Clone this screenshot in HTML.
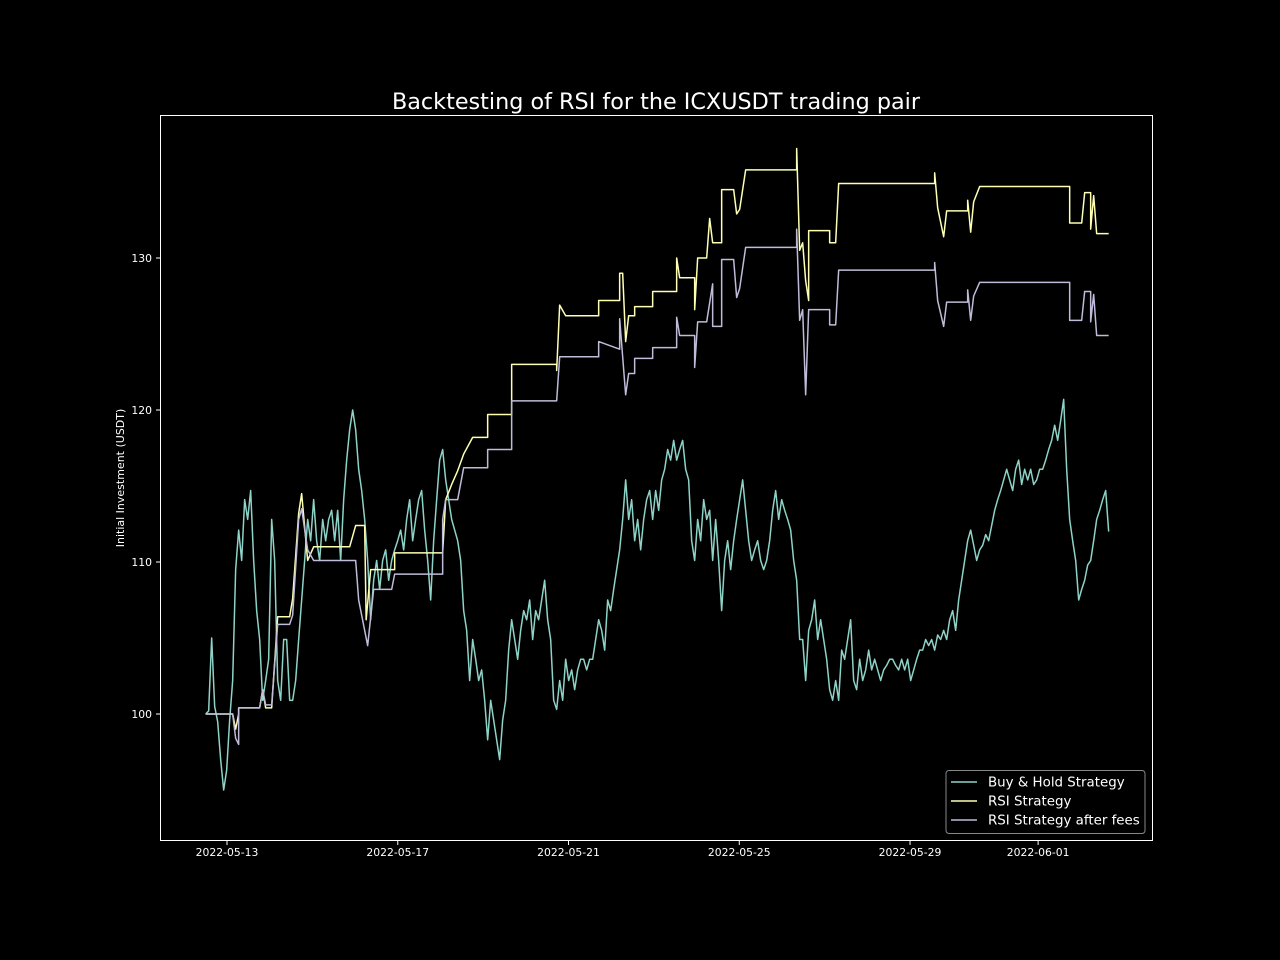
<!DOCTYPE html>
<html><head><meta charset="utf-8"><style>
html,body{margin:0;padding:0;background:#000;}
svg{display:block;font-family:"DejaVu Sans","Liberation Sans",sans-serif;}
</style></head><body>
<svg id="chart" width="1280" height="960" viewBox="0 0 1280 960">
<rect x="0" y="0" width="1280" height="960" fill="#000"/>
<text x="656" y="109" fill="#fff" font-size="22.3" text-anchor="middle">Backtesting of RSI for the ICXUSDT trading pair</text>
<text transform="translate(124,478) rotate(-90)" fill="#fff" font-size="11" text-anchor="middle">Initial Investment (USDT)</text>
<g id="ticks"></g>
<g id="series"></g>
<rect x="160.5" y="115.5" width="992" height="725" fill="none" stroke="#fff" stroke-width="1"/>
<g>
<rect x="946" y="770.5" width="199" height="63" rx="3" fill="#000" stroke="#888" stroke-width="1"/>
<line x1="951" y1="782" x2="977" y2="782" stroke="#8dd3c7" stroke-width="1.5"/>
<text x="988" y="786.5" fill="#fff" font-size="13.4">Buy &amp; Hold Strategy</text>
<line x1="951" y1="801" x2="977" y2="801" stroke="#feffb3" stroke-width="1.5"/>
<text x="988" y="805.5" fill="#fff" font-size="13.4">RSI Strategy</text>
<line x1="951" y1="820" x2="977" y2="820" stroke="#bfbbd9" stroke-width="1.5"/>
<text x="988" y="824.5" fill="#fff" font-size="13.4">RSI Strategy after fees</text>
</g>
</svg>
<script>
// data
const startTime = Date.UTC(2022,4,12,12,0);
const stepHours = 1.6866;
const yTicks = [100,110,120,130];
const xTickLabels = ["2022-05-13","2022-05-17","2022-05-21","2022-05-25","2022-05-29","2022-06-01"];
const buyHold = [100,100.2,105.0,100.5,99.5,97.0,95.0,96.3,99.6,102.2,109.5,112.1,110.1,114.1,112.8,114.7,110.1,106.8,104.9,100.9,102.2,103.6,112.8,110.1,102.2,100.9,104.9,104.9,100.9,100.9,102.2,104.9,107.5,110.1,112.8,111.4,114.1,111.4,110.1,112.8,111.4,112.8,113.4,111.4,113.4,110.1,114.1,116.7,118.7,120.0,118.7,116.1,114.7,112.8,110.1,106.2,108.8,110.1,108.2,110.1,110.8,108.8,110.1,110.8,111.4,112.1,110.8,112.8,114.1,111.4,112.8,114.1,114.7,112.1,110.1,107.5,111.4,114.1,116.7,117.4,115.4,114.1,112.8,112.1,111.4,110.1,106.8,105.5,102.2,104.9,103.6,102.2,102.9,100.9,98.3,100.9,99.6,98.3,97.0,99.6,100.9,104.2,106.2,104.9,103.6,105.5,106.8,106.2,107.5,104.9,106.8,106.2,107.5,108.8,106.2,104.9,100.9,100.3,102.2,100.9,103.6,102.2,102.9,101.6,102.9,103.6,103.6,102.9,103.6,103.6,104.9,106.2,105.5,104.2,107.5,106.8,108.2,109.5,110.8,112.8,115.4,112.8,114.1,111.4,112.8,110.8,112.8,114.1,114.7,112.8,114.7,113.4,115.4,116.1,117.4,116.7,118.0,116.7,117.4,118.0,116.1,115.4,111.4,110.1,112.8,111.4,114.1,112.8,113.4,110.1,112.8,110.1,106.8,110.1,111.4,109.5,111.4,112.8,114.1,115.4,113.4,111.4,110.1,110.8,111.4,110.1,109.5,110.1,111.4,113.4,114.7,112.8,114.1,113.4,112.8,112.1,110.1,108.8,104.9,104.9,102.2,105.5,106.2,107.5,104.9,106.2,104.9,103.6,101.6,100.9,102.2,100.9,104.2,103.6,104.9,106.2,102.2,101.6,103.6,102.2,102.9,104.2,102.9,103.6,102.9,102.2,102.9,103.2,103.6,103.6,103.2,102.9,103.6,102.9,103.6,102.2,102.9,103.6,104.2,104.2,104.9,104.5,104.9,104.2,105.2,104.9,105.5,104.9,106.2,106.8,105.5,107.5,108.8,110.1,111.4,112.1,111.1,110.1,110.8,111.1,111.8,111.4,112.4,113.4,114.1,114.7,115.4,116.1,115.4,114.7,116.1,116.7,115.1,116.1,115.4,116.1,115.1,115.4,116.1,116.1,116.7,117.4,118.0,119.0,118.0,119.3,120.7,116.1,112.8,111.4,110.1,107.5,108.2,108.8,109.8,110.1,111.4,112.8,113.4,114.1,114.7,112.0];
const rsiIdx = [0,9,10,11,11,18,19,20,22,24,28,29,31,32,34,36,48,50,53,53.5,55,63,63,79,80,82,84,86,89,94,94,102,102,117,117,118,120,131,131,138,138,139,140,141,143,143,149,149,157,157,158,163,163,164,167,168,169,172,172,176,177,178,180,197,197,198,199,200,201,201,208,208,210,211,243,243,244,246,247,254,254,255,256,258,288,288,292,293,294,295,295,296,297,301];
const rsiVal = [100,100,99.0,100,100.4,100.4,101.6,100.4,100.4,106.4,106.4,107.6,113.2,114.5,110.1,111.0,111.0,112.4,112.4,106.2,109.5,109.5,110.6,110.6,114.1,115.1,116.0,117.1,118.2,118.2,119.7,119.7,123.0,123.0,122.6,126.9,126.2,126.2,127.2,127.2,129.0,129.0,124.5,126.2,126.2,126.8,126.8,127.8,127.8,130,128.7,128.7,126.6,130,130,132.6,131,131,134.5,134.5,132.9,133.2,135.8,135.8,137.2,130.5,131,128.5,127.2,131.8,131.8,131,131,134.9,134.9,135.6,133.3,131.4,133.1,133.1,133.8,131.7,133.7,134.7,134.7,132.3,132.3,134.3,134.3,134.3,131.9,134.1,131.6,131.6];
const feeIdx = [0,9,10,11,11,18,19,20,22,24,28,29,31,32,34,36,48,50,51,54,56,62,63,79,79,80,84,86,94,94,102,102,117,118,131,131,138,138,140,141,143,143,149,149,157,157,158,163,163,164,167,169,169,172,172,176,177,178,180,197,197,198,199,200,201,208,208,210,211,243,243,244,246,247,254,254,255,256,258,288,288,292,293,295,295,296,297,301];
const feeVal = [100,100,98.4,98.0,100.4,100.4,101.6,100.6,100.6,105.9,105.9,106.5,112.8,113.5,110.8,110.1,110.1,110.1,107.5,104.5,108.2,108.2,109.2,109.2,112.8,114.1,114.1,116.2,116.2,117.4,117.4,120.6,120.6,123.5,123.5,124.5,124,126,121,122.4,122.4,123.4,123.4,124.1,124.1,126.1,124.9,124.9,122.8,125.8,125.8,128.3,125.5,125.5,129.9,129.9,127.4,128,130.7,130.7,131.9,125.9,126.6,121,126.6,126.6,125.6,125.6,129.2,129.2,129.7,127.2,125.5,127.1,127.1,127.9,125.9,127.5,128.4,128.4,125.9,125.9,127.8,127.8,125.8,127.6,124.9,124.9];

const NS = "http://www.w3.org/2000/svg";
const dayMs = 86400000;
const x0 = Date.UTC(2022,4,13), px0 = 227, pxPerDay = 42.69;
function xScale(t){ return px0 + (t - x0)/dayMs*pxPerDay; }
function yScale(v){ return 714 - (v-100)*15.2; }
function idxTime(i){ return startTime + i*stepHours*3600000; }

const ticks = document.getElementById('ticks');
yTicks.forEach(v=>{
  const y = yScale(v);
  const l = document.createElementNS(NS,'line');
  l.setAttribute('x1',156); l.setAttribute('x2',160); l.setAttribute('y1',y); l.setAttribute('y2',y);
  l.setAttribute('stroke','#fff');
  
  
  ticks.appendChild(l);
  const t = document.createElementNS(NS,'text');
  t.setAttribute('x',152); t.setAttribute('y',y+4); t.setAttribute('fill','#fff');
  t.setAttribute('font-size','10.8'); t.setAttribute('text-anchor','end');
  t.textContent = v;
  
  
  ticks.appendChild(t);
});
xTickLabels.forEach(s=>{
  const p = s.split('-').map(Number);
  const x = xScale(Date.UTC(p[0],p[1]-1,p[2]));
  const l = document.createElementNS(NS,'line');
  l.setAttribute('x1',x); l.setAttribute('x2',x); l.setAttribute('y1',841); l.setAttribute('y2',845);
  l.setAttribute('stroke','#fff');
  
  
  ticks.appendChild(l);
  const t = document.createElementNS(NS,'text');
  t.setAttribute('x',x); t.setAttribute('y',856); t.setAttribute('fill','#fff');
  t.setAttribute('font-size','10.8'); t.setAttribute('text-anchor','middle');
  t.textContent = s;
  
  
  ticks.appendChild(t);
});

const g = document.getElementById('series');
function addLine(idx, vals, color, name){
  const pts = vals.map((v,k)=> xScale(idxTime(idx ? idx[k] : k)).toFixed(2)+','+yScale(v).toFixed(2)).join(' ');
  const pl = document.createElementNS(NS,'polyline');
  pl.setAttribute('points',pts); pl.setAttribute('fill','none');
  pl.setAttribute('stroke',color); pl.setAttribute('stroke-width','1.5');
  pl.setAttribute('stroke-linejoin','round');
  
  
  g.appendChild(pl);
}
addLine(null, buyHold, '#8dd3c7', 'buy-hold-line');
addLine(rsiIdx, rsiVal, '#feffb3', 'rsi-strategy-line');
addLine(feeIdx, feeVal, '#bfbbd9', 'rsi-after-fees-line');
</script>
</body></html>
